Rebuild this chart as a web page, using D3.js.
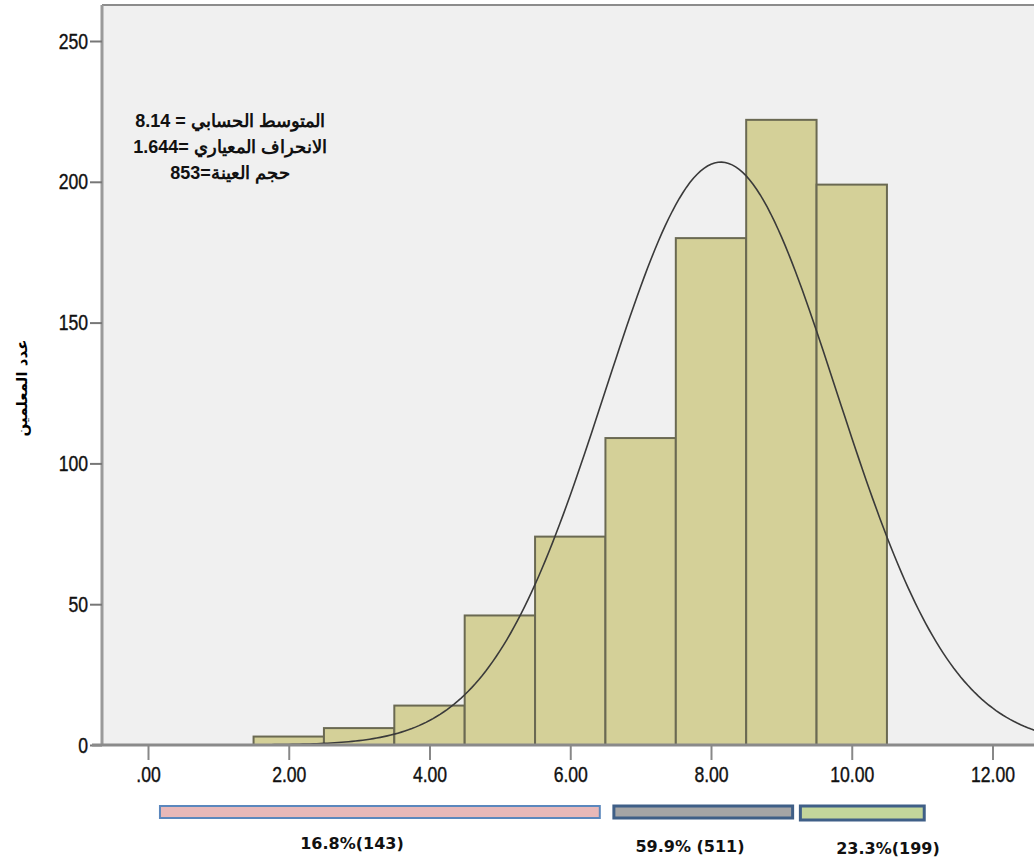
<!DOCTYPE html>
<html>
<head>
<meta charset="utf-8">
<script src="https://cdn.jsdelivr.net/npm/d3@7"></script>
<style>
  body { margin: 0; background: #fff; }
  svg { display: block; }
</style>
</head>
<body>
<div id="chart"></div>
<script>
// bins of width 1, centred on the whole scores
const binCenters = [2, 3, 4, 5, 6, 7, 8, 9, 10];
const binCounts  = [3, 6, 14, 46, 74, 109, 180, 222, 199];

const xTicks = [0, 2, 4, 6, 8, 10, 12];
const yTicks = [0, 50, 100, 150, 200, 250];

// fitted normal curve parameters (from the chart's own note)
const mean = 8.14, sd = 1.644, n = 853;
const statLines = [
    'المتوسط الحسابي = 8.14',
    'الانحراف المعياري =1.644',
    'حجم العينة=853'
];
const yLabel = 'عدد المعلمين';

// level bands drawn below the axis
const bandLabels = ['16.8%(143)', '59.9% (511)', '23.3%(199)'];
const bandRanges = [[0.17, 6.42], [6.62, 9.16], [9.27, 11.03]];
const bandFills  = ['#e8b8b8', '#a5a5a5', '#c3d69b'];
const bandStroke = ['#5b87bd', '#3f5f87', '#3f5f87'];

const width = 1034, height = 863;
const margin = { top: 5, left: 102, bottom: 118 };

const svg = d3.select('#chart').append('svg')
    .attr('width', width)
    .attr('height', height);

const x = d3.scaleLinear([0, 12], [148, 992.5]);
const y = d3.scaleLinear([0, 250], [745, 41]);

// plot background
svg.append('rect')
    .attr('x', margin.left).attr('y', margin.top)
    .attr('width', width - margin.left).attr('height', y(0) - margin.top)
    .attr('fill', '#f0f0f0');

svg.append('line')
    .attr('x1', margin.left).attr('x2', width)
    .attr('y1', margin.top).attr('y2', margin.top)
    .attr('stroke', '#8c8c8c').attr('stroke-width', 2);

// histogram bars
svg.append('g').selectAll('rect')
    .data(binCenters)
    .join('rect')
    .attr('x', (d) => x(d - 0.5))
    .attr('width', (d) => x(d + 0.5) - x(d - 0.5))
    .attr('y', (d, i) => y(binCounts[i]))
    .attr('height', (d, i) => y(0) - y(binCounts[i]))
    .attr('fill', '#d4d098')
    .attr('stroke', '#6a6952')
    .attr('stroke-width', 2);

// normal curve
const curveX = d3.range(0, 13.01, 0.05);
const pdf = (v) => n / (sd * Math.sqrt(2 * Math.PI)) * Math.exp(-0.5 * ((v - mean) / sd) ** 2);
svg.append('path')
    .datum(curveX)
    .attr('fill', 'none')
    .attr('stroke', '#3a3a3a')
    .attr('stroke-width', 1.6)
    .attr('d', d3.line().x((d) => x(d)).y((d) => y(pdf(d))));

// axes -- tick labels squeezed horizontally to look like a narrow face
const tickFont = '"Liberation Sans", Arial, sans-serif';
const squeeze = 0.8;

const axisY = svg.append('g')
    .attr('transform', `translate(${margin.left},0)`)
    .call(d3.axisLeft(y).tickValues(yTicks).tickSize(12).tickPadding(2));
axisY.select('.domain').attr('stroke', '#9a9a9a').attr('stroke-width', 3)
    .attr('d', `M0,${margin.top}V${y(0)}`);
axisY.selectAll('.tick line').attr('stroke', '#777').attr('stroke-width', 2);
axisY.selectAll('.tick text')
    .attr('font-family', tickFont).attr('font-size', 22).attr('fill', '#111')
    .attr('stroke', '#111').attr('stroke-width', 0.4)
    .attr('x', -14 / squeeze)
    .attr('transform', `scale(${squeeze},1)`);

const axisX = svg.append('g')
    .attr('transform', `translate(0,${y(0)})`)
    .call(d3.axisBottom(x).tickValues(xTicks).tickSize(15).tickPadding(6)
        .tickFormat((d) => d === 0 ? '.00' : d3.format('.2f')(d)));
axisX.select('.domain').attr('stroke', '#8a8a8a').attr('stroke-width', 3)
    .attr('d', `M92,0H${width}`);
axisX.selectAll('.tick line').attr('stroke', '#888').attr('stroke-width', 2);
axisX.selectAll('.tick text')
    .attr('font-family', tickFont).attr('font-size', 22).attr('fill', '#111')
    .attr('stroke', '#111').attr('stroke-width', 0.4)
    .attr('transform', `scale(${squeeze},1)`);

// y label
svg.append('text')
    .attr('transform', `translate(27,388) rotate(-90)`)
    .attr('text-anchor', 'middle')
    .attr('font-family', '"DejaVu Sans", sans-serif')
    .attr('font-weight', 'bold')
    .attr('font-size', 15)
    .text(yLabel);

// statistics note
svg.append('g').selectAll('text')
    .data(statLines)
    .join('text')
    .attr('x', 230)
    .attr('y', (d, i) => 127 + i * 26)
    .attr('direction', 'rtl')
    .attr('text-anchor', 'middle')
    .attr('font-family', '"Liberation Sans", Arial, sans-serif')
    .attr('font-weight', 'bold')
    .attr('font-size', 18)
    .attr('fill', '#111')
    .text((d) => d);

// level bands
const bands = svg.append('g');
bands.selectAll('rect')
    .data(bandRanges)
    .join('rect')
    .attr('x', (d) => x(d[0]))
    .attr('width', (d) => x(d[1]) - x(d[0]))
    .attr('y', 806)
    .attr('height', (d, i) => i === 2 ? 14 : 12)
    .attr('fill', (d, i) => bandFills[i])
    .attr('stroke', (d, i) => bandStroke[i])
    .attr('stroke-width', (d, i) => i === 0 ? 2 : 3);

bands.selectAll('text')
    .data(bandLabels)
    .join('text')
    .attr('x', (d, i) => [352, 690, 888][i])
    .attr('y', (d, i) => [849, 852, 854][i])
    .attr('text-anchor', 'middle')
    .attr('font-family', '"DejaVu Sans", sans-serif')
    .attr('font-weight', 'bold')
    .attr('font-size', 16)
    .attr('fill', '#111')
    .text((d) => d);
</script>
</body>
</html>
